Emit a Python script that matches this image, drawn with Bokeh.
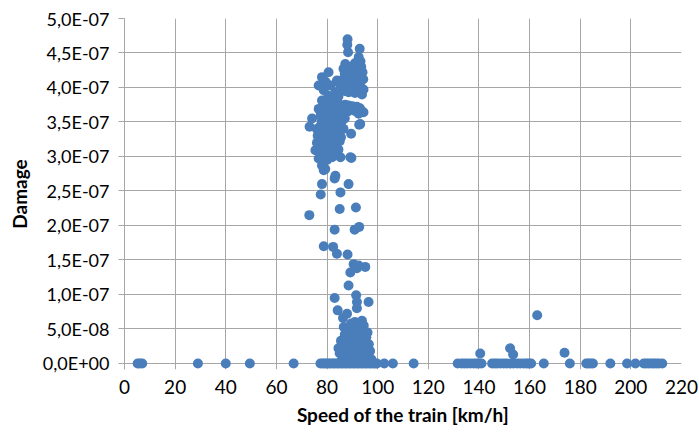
from bokeh.plotting import figure
from bokeh.models import Range1d, FixedTicker, CustomJSTickFormatter, ColumnDataSource
from bokeh.embed import file_html
from bokeh.resources import INLINE

# Speed [km/h] and damage for the non-zero damage records
speed_nz = [
    88.1, 88.0, 88.3, 92.9, 92.5, 87.2, 91.0, 93.5, 86.5, 88.8, 91.8, 94.0, 87.0, 89.5, 92.3, 94.3,
    86.4, 88.0, 90.5, 93.0, 87.5, 89.8, 92.5, 94.4, 88.5, 91.0, 93.8, 87.0, 90.0, 91.5, 93.2, 90.2,
    80.6, 78.0, 76.7, 83.9, 81.3, 83.3, 78.7, 78.0, 80.5, 82.0, 84.5, 85.5, 85.0, 79.5,
    76.7, 78.7, 80.0, 81.5, 83.0, 84.5, 86.0, 87.2, 88.5, 90.0, 91.8, 93.0, 94.4,
    77.5, 79.0, 80.5, 82.0, 83.5, 85.0, 86.5, 88.0, 89.5, 91.0, 92.5,
    78.0, 80.0, 81.8, 83.2, 84.8, 86.0, 74.1, 73.1, 93.1, 92.7,
    76.0, 77.5, 79.0, 80.5, 82.0, 83.5, 85.0, 76.3, 78.0, 79.5, 81.0, 82.5, 84.0, 85.5,
    76.0, 77.5, 79.0, 80.5, 82.0, 83.5, 85.0, 75.4, 77.0, 78.5, 80.0, 81.5, 83.0, 84.5,
    76.7, 78.0, 78.7, 79.3, 82.0, 85.3, 89.5, 89.6, 89.2, 80.0, 86.5, 87.0,
    83.3, 83.0, 78.0, 88.5, 77.5, 85.3,
    73.0, 85.0, 91.4, 83.0, 90.9, 92.7, 78.7, 82.4, 83.9, 88.1, 90.5, 92.5, 95.1, 89.2, 91.8,
    88.5, 83.0, 91.5, 96.4, 91.8, 91.8, 84.2, 87.9, 86.3, 86.6,
    93.8, 91.0, 89.5, 94.5, 88.0, 92.5, 96.0, 90.0, 87.0, 93.5, 95.5, 89.0, 91.5, 85.5, 88.5,
    92.0, 94.5, 96.5, 86.5, 90.0, 93.0, 95.0, 97.0, 85.0, 87.5, 89.5, 92.0, 94.0, 96.0, 86.0,
    88.5, 91.0, 93.5, 97.5, 84.5, 90.5, 87.5,
    140.5, 152.3, 153.5, 173.8, 163.0,
]
damage_nz = [
    4.70e-7, 4.62e-7, 4.51e-7, 4.56e-7, 4.44e-7, 4.34e-7, 4.35e-7, 4.30e-7, 4.27e-7, 4.25e-7, 4.27e-7, 4.22e-7, 4.20e-7, 4.18e-7, 4.17e-7, 4.12e-7,
    4.12e-7, 4.10e-7, 4.08e-7, 4.05e-7, 4.03e-7, 4.00e-7, 3.98e-7, 3.97e-7, 3.93e-7, 3.92e-7, 3.90e-7, 3.95e-7, 4.13e-7, 4.22e-7, 4.38e-7, 4.30e-7,
    4.22e-7, 4.15e-7, 4.03e-7, 4.10e-7, 4.03e-7, 3.93e-7, 3.96e-7, 3.81e-7, 3.88e-7, 3.84e-7, 3.87e-7, 3.95e-7, 4.05e-7, 4.08e-7,
    3.69e-7, 3.71e-7, 3.75e-7, 3.78e-7, 3.74e-7, 3.77e-7, 3.72e-7, 3.75e-7, 3.74e-7, 3.73e-7, 3.72e-7, 3.70e-7, 3.64e-7,
    3.60e-7, 3.63e-7, 3.58e-7, 3.65e-7, 3.60e-7, 3.66e-7, 3.62e-7, 3.65e-7, 3.68e-7, 3.66e-7, 3.62e-7,
    3.52e-7, 3.50e-7, 3.54e-7, 3.50e-7, 3.55e-7, 3.52e-7, 3.55e-7, 3.43e-7, 3.47e-7, 3.46e-7,
    3.40e-7, 3.45e-7, 3.42e-7, 3.46e-7, 3.40e-7, 3.44e-7, 3.38e-7, 3.30e-7, 3.33e-7, 3.28e-7, 3.35e-7, 3.30e-7, 3.32e-7, 3.28e-7,
    3.20e-7, 3.22e-7, 3.18e-7, 3.24e-7, 3.20e-7, 3.15e-7, 3.22e-7, 3.09e-7, 3.10e-7, 3.07e-7, 3.12e-7, 3.05e-7, 3.08e-7, 3.10e-7,
    2.97e-7, 2.87e-7, 2.80e-7, 2.82e-7, 2.99e-7, 2.99e-7, 3.33e-7, 2.98e-7, 2.99e-7, 2.95e-7, 3.40e-7, 3.55e-7,
    2.72e-7, 2.68e-7, 2.60e-7, 2.60e-7, 2.45e-7, 2.48e-7,
    2.15e-7, 2.24e-7, 2.26e-7, 1.94e-7, 1.94e-7, 1.98e-7, 1.70e-7, 1.69e-7, 1.59e-7, 1.58e-7, 1.44e-7, 1.42e-7, 1.40e-7, 1.32e-7, 1.38e-7,
    1.13e-7, 0.95e-7, 0.99e-7, 0.89e-7, 0.89e-7, 0.80e-7, 0.77e-7, 0.72e-7, 0.66e-7, 0.53e-7,
    0.62e-7, 0.60e-7, 0.58e-7, 0.55e-7, 0.50e-7, 0.52e-7, 0.45e-7, 0.47e-7, 0.42e-7, 0.44e-7, 0.38e-7, 0.40e-7, 0.38e-7, 0.33e-7, 0.32e-7,
    0.30e-7, 0.31e-7, 0.28e-7, 0.25e-7, 0.24e-7, 0.22e-7, 0.20e-7, 0.18e-7, 0.15e-7, 0.17e-7, 0.14e-7, 0.12e-7, 0.13e-7, 0.10e-7, 0.07e-7,
    0.06e-7, 0.08e-7, 0.05e-7, 0.06e-7, 0.22e-7, 0.33e-7, 0.28e-7,
    0.145e-7, 0.22e-7, 0.13e-7, 0.155e-7, 0.70e-7,
]
# Speeds of the records with zero damage
speed_zero = [
    5.2, 6.0, 7.0, 29.0, 40.0, 49.5, 66.8,
    77.4, 78.3, 79.1, 79.8, 80.7, 81.4, 82.3, 83.0, 83.9, 84.6, 85.5, 86.2, 87.1, 87.8, 88.7,
    89.4, 90.3, 91.0, 91.9, 92.6, 93.5, 94.2, 95.1, 95.8, 96.7, 97.4, 98.3, 99.0, 99.7,
    102.6, 106.0, 114.2,
    131.6, 133.1, 134.2, 135.3, 136.6, 137.9, 139.0, 139.9, 141.0,
    145.2, 146.3, 147.2, 148.5, 149.8, 151.0, 152.4, 153.6, 155.1, 156.3, 157.7, 158.8, 159.7, 160.6,
    165.6, 175.9, 182.4, 183.2, 184.1, 185.0, 191.9,
    198.5, 201.8, 205.1, 206.1, 207.1, 208.2, 209.1, 210.1, 211.1, 212.4,
]
damage_zero = [0.0] * len(speed_zero)

x_ticks = [0, 20, 40, 60, 80, 100, 120, 140, 160, 180, 200, 220]
y_ticks = [0.0, 5.0e-8, 1.0e-7, 1.5e-7, 2.0e-7, 2.5e-7, 3.0e-7, 3.5e-7, 4.0e-7, 4.5e-7, 5.0e-7]

src = ColumnDataSource(dict(speed=speed_nz + speed_zero, damage=damage_nz + damage_zero))

GRID = "#a6a6a6"
FONT = "Lato"

p = figure(width=699, height=435, output_backend="svg", toolbar_location=None,
           x_range=Range1d(0, 220), y_range=Range1d(-8.7e-9, 5.0e-7),
           min_border_left=124, min_border_right=18, min_border_top=18, min_border_bottom=66)
p.outline_line_color = None
p.background_fill_color = "white"
p.border_fill_color = "white"

p.scatter("speed", "damage", source=src, size=10, fill_color="#4a7ebb", line_color=None)

p.xaxis.ticker = FixedTicker(ticks=x_ticks)
p.yaxis.ticker = FixedTicker(ticks=y_ticks)
p.yaxis.formatter = CustomJSTickFormatter(code="""
const s = tick.toExponential(1);
const parts = s.split('e');
const e = parseInt(parts[1]);
const sign = e < 0 ? '-' : '+';
const a = Math.abs(e);
return parts[0].replace('.', ',') + 'E' + sign + (a < 10 ? '0' + a : '' + a);
""")

p.xgrid.grid_line_color = GRID
p.ygrid.grid_line_color = GRID
p.xgrid.grid_line_width = 1
p.ygrid.grid_line_width = 1

p.xaxis.axis_line_color = None
p.xaxis.major_tick_line_color = None
p.xaxis.minor_tick_line_color = None
p.xaxis.major_label_standoff = 4
p.yaxis.axis_line_color = GRID
p.yaxis.major_tick_line_color = GRID
p.yaxis.major_tick_out = 6
p.yaxis.major_tick_in = 0
p.yaxis.minor_tick_line_color = None
p.yaxis.major_label_standoff = 9

for ax in (p.xaxis[0], p.yaxis[0]):
    ax.major_label_text_font = FONT
    ax.major_label_text_color = "#000000"
    ax.axis_label_text_font = FONT
    ax.axis_label_text_font_size = "19px"
    ax.axis_label_text_font_style = "bold"
    ax.axis_label_text_color = "#000000"
p.xaxis.major_label_text_font_size = "19px"
p.yaxis.major_label_text_font_size = "18px"

p.xaxis.axis_label = "Speed of the train [km/h]"
p.yaxis.axis_label = "Damage"
p.xaxis.axis_label_standoff = 6
p.yaxis.axis_label_standoff = 9

open("out.html", "w").write(file_html(p, INLINE))
